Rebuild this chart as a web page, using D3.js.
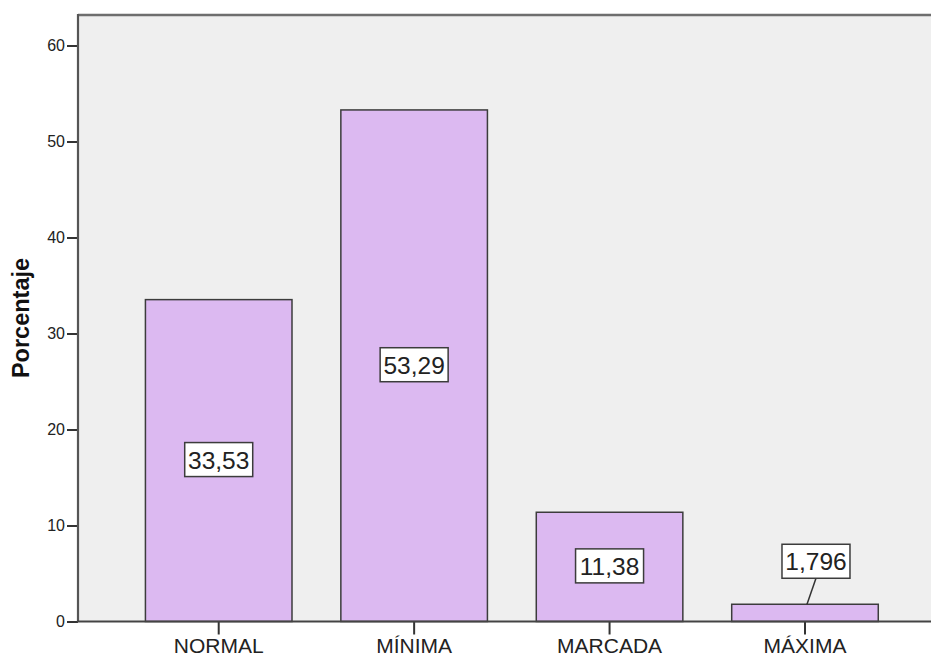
<!DOCTYPE html>
<html>
<head>
<meta charset="utf-8">
<script src="https://cdn.jsdelivr.net/npm/d3@7"></script>
<style>
  html, body { margin: 0; padding: 0; background: #ffffff; }
  svg { display: block; font-family: "Liberation Sans", Arial, sans-serif; }
</style>
</head>
<body>
<svg id="chart" width="931" height="659"></svg>
<script>
// Data: percentage per category
const categories = ["NORMAL", "MÍNIMA", "MARCADA", "MÁXIMA"];
const values = [33.53, 53.29, 11.38, 1.796];
const valueLabels = ["33,53", "53,29", "11,38", "1,796"];
const yTicks = [0, 10, 20, 30, 40, 50, 60];

const svg = d3.select("#chart");
const plot = { left: 78, top: 15, right: 931, bottom: 621.5 };

const x = d3.scaleBand()
  .domain(categories)
  .range([121, 902.7])
  .paddingInner(0.25)
  .paddingOuter(0.125);

const y = d3.scaleLinear()
  .domain([0, 63.18])
  .range([plot.bottom, plot.top]);

// plot background
svg.append("rect")
  .attr("x", plot.left).attr("y", plot.top)
  .attr("width", plot.right - plot.left)
  .attr("height", plot.bottom - plot.top)
  .attr("fill", "#efefef");

// top frame line
svg.append("line")
  .attr("x1", plot.left).attr("x2", plot.right)
  .attr("y1", plot.top).attr("y2", plot.top)
  .attr("stroke", "#6e6e6e").attr("stroke-width", 2.5);

// bars
svg.append("g").selectAll("rect")
  .data(values)
  .join("rect")
  .attr("x", (d, i) => x(categories[i]))
  .attr("y", d => y(d))
  .attr("width", x.bandwidth())
  .attr("height", d => y(0) - y(d))
  .attr("fill", "#dcb9f1")
  .attr("stroke", "#3c3c3c")
  .attr("stroke-width", 1.5);

// y axis
const yAxis = svg.append("g")
  .attr("transform", `translate(${plot.left},0)`)
  .call(d3.axisLeft(y).tickValues(yTicks).tickSize(11).tickPadding(2).tickFormat(d3.format("d")));
yAxis.select(".domain").remove();
yAxis.selectAll(".tick line").attr("stroke", "#333").attr("stroke-width", 2);
yAxis.selectAll(".tick text")
  .attr("font-size", 16).attr("fill", "#222")
  .attr("font-family", "Liberation Sans, Arial, sans-serif");
svg.append("line")
  .attr("x1", plot.left).attr("x2", plot.left)
  .attr("y1", plot.top - 1).attr("y2", plot.bottom)
  .attr("stroke", "#555").attr("stroke-width", 2.2);

// x axis
const xAxis = svg.append("g")
  .attr("transform", `translate(0,${plot.bottom})`)
  .call(d3.axisBottom(x).tickSize(13).tickPadding(4));
xAxis.select(".domain").remove();
xAxis.selectAll(".tick line").attr("stroke", "#333").attr("stroke-width", 2);
xAxis.selectAll(".tick text")
  .attr("font-size", 21).attr("fill", "#222")
  .attr("font-family", "Liberation Sans, Arial, sans-serif");
svg.append("line")
  .attr("x1", plot.left - 1).attr("x2", plot.right)
  .attr("y1", plot.bottom).attr("y2", plot.bottom)
  .attr("stroke", "#444").attr("stroke-width", 2);

// y axis title
svg.append("text")
  .attr("transform", `translate(29,318) rotate(-90)`)
  .attr("text-anchor", "middle")
  .attr("font-size", 23.5).attr("font-weight", "bold").attr("fill", "#111")
  .text("Porcentaje");

// value labels in boxes
const boxW = 68, boxH = 34;
const labels = svg.append("g");
values.forEach((v, i) => {
  const cx0 = x(categories[i]) + x.bandwidth() / 2;
  const inside = (y(0) - y(v)) > boxH + 10;
  const cx = inside ? cx0 : cx0 + 11;
  const cy = inside ? y(v / 2) - 1 : y(v) - 43;
  const g = labels.append("g");
  if (!inside) {
    g.append("line")
      .attr("x1", cx).attr("y1", cy + boxH / 2)
      .attr("x2", cx0 + 2).attr("y2", y(v))
      .attr("stroke", "#333").attr("stroke-width", 1.5);
  }
  g.append("rect")
    .attr("x", cx - boxW / 2).attr("y", cy - boxH / 2)
    .attr("width", boxW).attr("height", boxH)
    .attr("fill", "#ffffff")
    .attr("stroke", "#3c3c3c").attr("stroke-width", 1.5);
  g.append("text")
    .attr("x", cx).attr("y", cy + 9)
    .attr("text-anchor", "middle")
    .attr("font-size", 24.5).attr("fill", "#222")
    .text(valueLabels[i]);
});
</script>
</body>
</html>
